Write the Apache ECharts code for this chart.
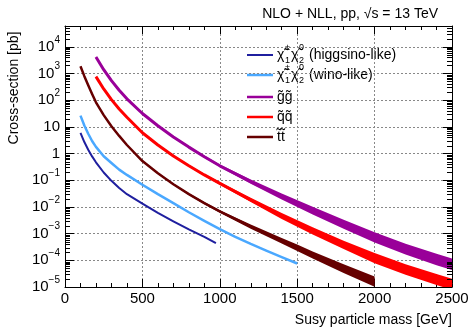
<!DOCTYPE html>
<html>
<head>
<meta charset="utf-8">
<script src="https://cdn.jsdelivr.net/npm/echarts@6/dist/echarts.min.js"></script>
<style>
  html, body { margin: 0; padding: 0; background: #fff; }
  #chart { width: 472px; height: 328px; }
</style>
</head>
<body>
<div id="chart"></div>
<script>
// values (mass in GeV, cross-section in pb)
const higgsinoMass = [100, 125, 150, 175, 200, 250, 300, 350, 400, 500, 600, 700, 800, 900, 975];
const higgsinoXsec = [5.9, 2.7, 1.38, 0.78, 0.47, 0.195, 0.095, 0.051, 0.030, 0.0132, 0.0060, 0.0029, 0.00145, 7.6e-4, 4.4e-4];

const winoMass = [100, 125, 150, 175, 200, 250, 300, 350, 400, 500, 600, 700, 800, 900, 1000, 1100, 1200, 1300, 1400, 1500];
const winoXsec = [26.3, 11.2, 5.5, 2.95, 1.78, 0.79, 0.44, 0.25, 0.158, 0.068, 0.030, 0.0138, 0.0063, 0.0030, 0.00148, 7.6e-4, 4.1e-4, 2.3e-4, 1.32e-4, 7.6e-5];

const stopMass = [100, 125, 150, 175, 200, 250, 300, 350, 400, 500, 600, 700, 800, 900, 1000, 1200, 1400, 1500, 1600, 1800, 2000];
const stopXsec = [1860, 794, 363, 170, 83, 27.5, 10.5, 4.57, 2.09, 0.525, 0.182, 0.0708, 0.0302, 0.0138, 0.00676, 0.00182, 5.4e-4, 2.95e-4, 1.58e-4, 4.9e-5, 1.58e-5];
const stopUnc = [3, 3, 3, 3, 3, 3, 3, 4, 4, 5, 6, 7, 8, 10, 12, 20, 28, 32, 36, 45, 55]; // %

const gluinoMass = [200, 250, 300, 350, 400, 500, 600, 700, 800, 900, 1000, 1200, 1400, 1600, 1800, 2000, 2200, 2400, 2500];
const gluinoXsec = [4170, 1380, 537, 234, 112, 31.6, 11.0, 4.17, 1.74, 0.76, 0.347, 0.089, 0.0245, 0.00724, 0.00224, 7.2e-4, 2.63e-4, 1.07e-4, 7.1e-5];
const gluinoUnc = [5, 5, 5, 5, 5, 6, 7, 8, 9, 10, 12, 20, 30, 40, 47, 55, 60, 63, 65];

const squarkMass = [200, 250, 300, 350, 400, 500, 600, 700, 800, 900, 1000, 1200, 1400, 1600, 1800, 2000, 2200, 2400, 2500];
const squarkXsec = [759, 263, 105, 46.8, 22.9, 6.0, 2.09, 0.81, 0.347, 0.158, 0.0759, 0.0182, 0.00457, 0.00126, 3.8e-4, 1.2e-4, 4.5e-5, 1.9e-5, 1.26e-5];
const squarkUnc = [5, 5, 5, 5, 5, 6, 7, 8, 9, 10, 12, 20, 30, 37, 42, 55, 58, 60, 62];

const xMin = 0, xMax = 2500;
const yMin = 1e-5, yMax = 6e4;

const FONT = 'Liberation Sans, Arial, sans-serif';
const C_HIGGSINO = '#1f1f9f';
const C_WINO = '#4aa8ff';
const C_GLUINO = '#990099';
const C_SQUARK = '#ff0000';
const C_STOP = '#660000';

const chart = echarts.init(document.getElementById('chart'));

const pairs = (m, v) => m.map((x, i) => [x, v[i]]);

// scale uncertainty band, drawn as one polygon through the axes
function band(mass, xsec, unc, color) {
  return {
    type: 'custom',
    silent: true,
    z: 2,
    data: [[mass[0], xsec[0]]],
    renderItem: (params, api) => {
      const up = mass.map((m, i) => api.coord([m, xsec[i] * (1 + unc[i] / 100)]));
      const lo = mass.map((m, i) => api.coord([m, xsec[i] / (1 + unc[i] / 100)])).reverse();
      const cs = params.coordSys;
      return {
        type: 'polygon',
        shape: { points: up.concat(lo) },
        style: { fill: color },
        clipPath: { type: 'rect', shape: { x: cs.x, y: cs.y, width: cs.width, height: cs.height } }
      };
    }
  };
}

function curve(mass, xsec, color, width) {
  return {
    type: 'line',
    data: pairs(mass, xsec),
    symbol: 'none',
    smooth: false,
    z: 3,
    lineStyle: { color: color, width: width, cap: 'butt', join: 'round' }
  };
}

// log minor ticks 2..9 on left and right frame
const logMinorTicks = {
  type: 'custom',
  silent: true,
  z: 6,
  data: [[0, 1]],
  renderItem: (params, api) => {
    const cs = params.coordSys;
    const kids = [];
    for (let d = -5; d <= 4; d++) {
      for (let k = 2; k <= 9; k++) {
        const v = k * Math.pow(10, d);
        if (v > yMax) continue;
        const y = Math.round(api.coord([0, v])[1]) + 0.5;
        kids.push({ type: 'line', shape: { x1: cs.x, y1: y, x2: cs.x + 5, y2: y }, style: { stroke: '#000', lineWidth: 1 } });
        kids.push({ type: 'line', shape: { x1: cs.x + cs.width - 5, y1: y, x2: cs.x + cs.width, y2: y }, style: { stroke: '#000', lineWidth: 1 } });
      }
    }
    return { type: 'group', children: kids };
  }
};

function yLabel(v) {
  const lg = Math.log10(v);
  const e = Math.round(lg);
  if (Math.abs(lg - e) > 1e-6) return '';
  if (e === 0) return '{b|1}';
  if (e === 1) return '{b|10}';
  return '{b|10}{s|' + (e < 0 ? '\u2212' : '') + Math.abs(e) + '}';
}

// legend
const legendRows = [
  { color: C_HIGGSINO, width: 2, y: 55, chi: ['\u00b1', '1', '0', '2'], text: '(higgsino-like)' },
  { color: C_WINO, width: 2.5, y: 75, chi: ['\u00b1', '1', '0', '2'], text: '(wino-like)' },
  { color: C_GLUINO, width: 2.5, y: 97, label: 'g\u0303g\u0303' },
  { color: C_SQUARK, width: 2.5, y: 117, label: 'q\u0303q\u0303' },
  { color: C_STOP, width: 2.5, y: 137, label: 't\u0303t\u0303' }
];

const graphics = [];
const txt = (x, y, s, size, align) => ({
  type: 'text', x: x, y: y, silent: true,
  style: { text: s, fontSize: size, fontFamily: FONT, fill: '#000', align: align || 'left', verticalAlign: 'middle' }
});
legendRows.forEach(r => {
  graphics.push({ type: 'line', silent: true, shape: { x1: 247, y1: r.y, x2: 273, y2: r.y }, style: { stroke: r.color, lineWidth: r.width } });
  if (r.chi) {
    graphics.push(txt(277, r.y, '\u03c7\u0303', 14));
    graphics.push(txt(285, r.y - 7, r.chi[0], 9));
    graphics.push(txt(285, r.y + 6, r.chi[1], 9));
    graphics.push(txt(291, r.y, '\u03c7\u0303', 14));
    graphics.push(txt(299, r.y - 7, r.chi[2], 9));
    graphics.push(txt(299, r.y + 6, r.chi[3], 9));
    graphics.push(txt(309, r.y, r.text, 14));
  } else {
    graphics.push(txt(277, r.y, r.label, 14));
  }
});
graphics.push(txt(438, 14, 'NLO + NLL, pp, \u221As = 13 TeV', 14, 'right'));
graphics.push(txt(452, 320, 'Susy particle mass [GeV]', 14, 'right'));
graphics.push({
  type: 'text', x: 14, y: 88, rotation: Math.PI / 2, silent: true,
  style: { text: 'Cross-section [pb]', fontSize: 14, fontFamily: FONT, fill: '#000', align: 'center', verticalAlign: 'middle' }
});

const option = {
  animation: false,
  backgroundColor: '#fff',
  grid: { left: 65, right: 20, top: 26, bottom: 41 },
  xAxis: [
    {
      type: 'value', min: xMin, max: xMax, interval: 500,
      axisLine: { onZero: false, lineStyle: { color: '#000', width: 1 } },
      axisTick: { inside: true, length: 8, lineStyle: { color: '#000' } },
      minorTick: { show: true, splitNumber: 5, length: 4, lineStyle: { color: '#000' } },
      axisLabel: { fontSize: 15, fontFamily: FONT, color: '#000', margin: 4, formatter: v => String(v) },
      splitLine: { show: true, lineStyle: { color: '#888', type: [2, 2], width: 1 } }
    },
    {
      type: 'value', position: 'top', min: xMin, max: xMax, interval: 500,
      axisLine: { onZero: false, lineStyle: { color: '#000', width: 1 } },
      axisTick: { inside: true, length: 8, lineStyle: { color: '#000' } },
      minorTick: { show: true, splitNumber: 5, length: 4, lineStyle: { color: '#000' } },
      axisLabel: { show: false },
      splitLine: { show: false }
    }
  ],
  yAxis: [
    {
      type: 'log', logBase: 10, min: yMin, max: yMax,
      axisLine: { onZero: false, lineStyle: { color: '#000', width: 1 } },
      axisTick: { inside: true, length: 9, lineStyle: { color: '#000' } },
      axisLabel: {
        margin: 5, formatter: yLabel,
        rich: {
          b: { fontSize: 15, fontFamily: FONT, color: '#000', lineHeight: 24 },
          s: { fontSize: 10, fontFamily: FONT, color: '#000', verticalAlign: 'top', lineHeight: 12 }
        }
      },
      splitLine: { show: true, lineStyle: { color: '#888', type: [2, 2], width: 1 } }
    },
    {
      type: 'log', logBase: 10, min: yMin, max: yMax, position: 'right',
      axisLine: { onZero: false, lineStyle: { color: '#000', width: 1 } },
      axisTick: { inside: true, length: 9, lineStyle: { color: '#000' } },
      axisLabel: { show: false },
      splitLine: { show: false }
    }
  ],
  graphic: graphics,
  series: [
    band(gluinoMass, gluinoXsec, gluinoUnc, C_GLUINO),
    band(squarkMass, squarkXsec, squarkUnc, C_SQUARK),
    band(stopMass, stopXsec, stopUnc, C_STOP),
    curve(higgsinoMass, higgsinoXsec, C_HIGGSINO, 2),
    curve(winoMass, winoXsec, C_WINO, 2.5),
    curve(gluinoMass, gluinoXsec, C_GLUINO, 3),
    curve(squarkMass, squarkXsec, C_SQUARK, 3),
    curve(stopMass, stopXsec, C_STOP, 2.5),
    logMinorTicks
  ]
};

chart.setOption(option);
</script>
</body>
</html>
